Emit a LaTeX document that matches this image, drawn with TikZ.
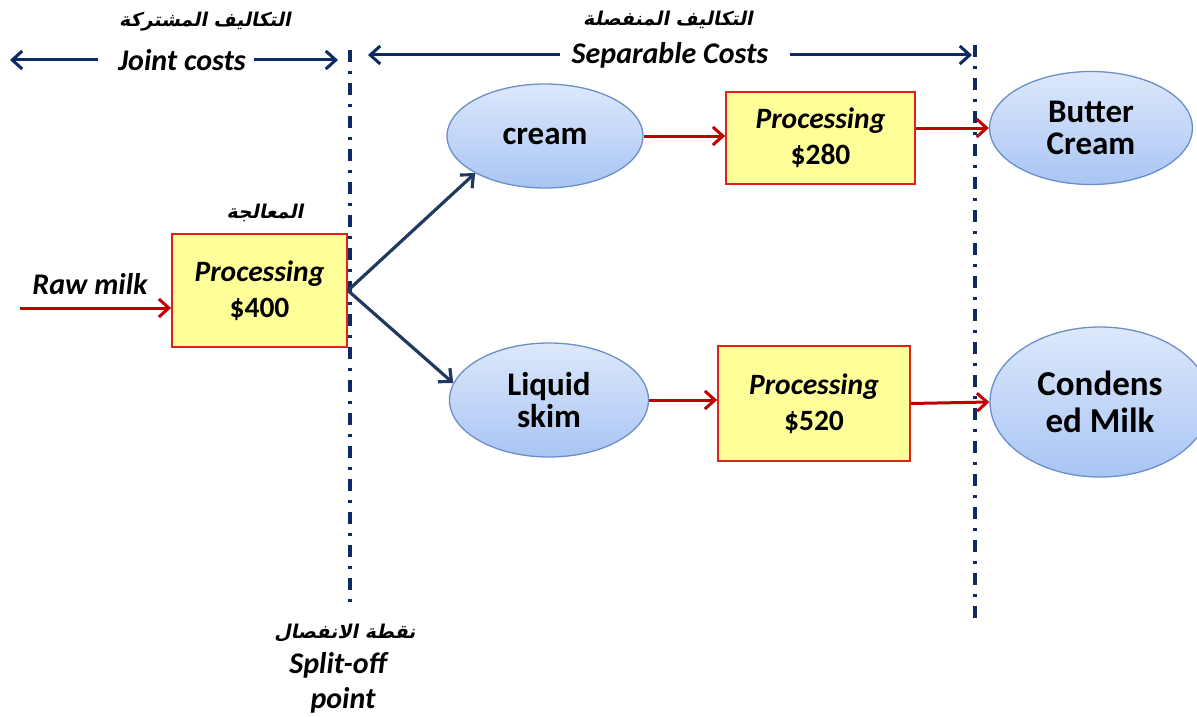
\documentclass[tikz,border=0pt]{standalone}
\usepackage{fontspec}
\setmainfont{Carlito}
\newfontfamily\arabicfont[Script=Arabic,FakeSlant=0.2]{DejaVu Sans}
\TeXXeTstate=1
\usetikzlibrary{arrows.meta,shapes.geometric}

\definecolor{navyline}{HTML}{0B2A63}
\definecolor{navyarrow}{HTML}{1F3A60}
\definecolor{flowred}{HTML}{C00000}
\definecolor{boxfill}{HTML}{FFFF99}
\definecolor{boxedge}{HTML}{E0201F}
\definecolor{elltop}{HTML}{DDE8FB}
\definecolor{ellbot}{HTML}{A9C5F4}
\definecolor{elledge}{HTML}{6A8FC8}

\begin{document}
\begin{tikzpicture}[x=1pt,y=-1pt,
  procbox/.style={draw=boxedge, line width=1.8pt, fill=boxfill, align=center,
    font=\fontsize{29.5}{36}\selectfont\bfseries, inner sep=0pt},
  product/.style={ellipse, draw=elledge, line width=1.3pt, top color=elltop,
    bottom color=ellbot, align=center, inner sep=0pt,
    font=\fontsize{33}{32}\selectfont\bfseries},
  costlabel/.style={font=\fontsize{30}{30}\selectfont\bfseries\itshape, inner sep=0pt},
  arlabel/.style={font=\fontsize{19}{24}\selectfont\arabicfont\bfseries, inner sep=0pt},
  costarrow/.style={draw=navyline, line width=3pt, -{Straight Barb[length=10pt,width=18pt]}},
  splitarrow/.style={draw=navyarrow, line width=3.2pt, -{Straight Barb[length=10pt,width=18pt]}},
  flowarrow/.style={draw=flowred, line width=3pt, -{Straight Barb[length=10pt,width=18pt]}},
  splitline/.style={draw=navyline, line width=3.5pt, dash pattern=on 12pt off 9pt on 3pt off 9pt}
]
\useasboundingbox (0,0) rectangle (1197,717);

% cost-range headings
\node[arlabel] (jcar) at (205,22) {\beginR التكاليف المشتركة\endR};
\node[costlabel] (jc) at (182,60) {Joint costs};
\node[arlabel] (scar) at (668,20) {\beginR التكاليف المنفصلة\endR};
\node[costlabel] (sc) at (670,55) {Separable Costs};
\coordinate (jl) at (10,60);
\coordinate (jr) at (338,60);
\coordinate (sl) at (368,55);
\coordinate (sr) at (972,55);
\draw[costarrow] (jc.west) ++(-20,0) -- (jl);
\draw[costarrow] (jc.east) ++(8,0) -- (jr);
\draw[costarrow] (sc.west) ++(-12,0) -- (sl);
\draw[costarrow] (sc.east) ++(22,0) -- (sr);

% split-off boundaries
\coordinate (s1top) at (350,50);
\coordinate (s1bot) at (350,605);
\coordinate (s2top) at (975,45);
\coordinate (s2bot) at (975,620);
\draw[splitline] (s1top) -- (s1bot);
\draw[splitline] (s2top) -- (s2bot);

% joint processing
\node[procbox, minimum width=175pt, minimum height=113pt] (p1) at (259.5,290.5)
  {\itshape Processing\\ \$400};
\node[arlabel] (p1ar) at (265,213) {\beginR المعالجة\endR};
\node[costlabel] (raw) at (90,284) {Raw milk};
\coordinate (rawin) at (20,308);
\draw[flowarrow] (rawin) -- (rawin -| p1.west);

% intermediate products
\node[product, minimum width=196pt, minimum height=104pt] (cream) at (545,136) {cream};
\node[product, minimum width=199pt, minimum height=114pt] (skim) at (549,400) {Liquid\\ skim};
\draw[splitarrow] (p1.east) -- (cream.208);
\draw[splitarrow] (p1.east) -- (skim.170);

% separable processing
\node[procbox, minimum width=189pt, minimum height=92pt] (p2) at (820.5,138)
  {\itshape Processing\\ \$280};
\node[procbox, minimum width=192pt, minimum height=115pt] (p3) at (814,403.5)
  {\itshape Processing\\ \$520};
\draw[flowarrow] (cream.east) -- (cream.east -| p2.west);
\draw[flowarrow] (skim.east) -- (skim.east -| p3.west);

% final products
\node[product, minimum width=203pt, minimum height=113pt] (butter) at (1091,128) {Butter\\ Cream};
\node[product, minimum width=220pt, minimum height=150pt,
  font=\fontsize{35}{37}\selectfont\bfseries] (cond) at (1100,402) {Condens\\ ed Milk};
\draw[flowarrow] (p2.east |- butter.west) -- (butter.west);
\draw[flowarrow] (p3.east) -- (cond.west);

% split-off caption
\node[arlabel] (soar) at (345,633) {\beginR نقطة الانفصال\endR};
\node[costlabel] (so1) at (338,665) {Split-off};
\node[costlabel] (so2) at (343,700) {point};
\end{tikzpicture}
\end{document}
